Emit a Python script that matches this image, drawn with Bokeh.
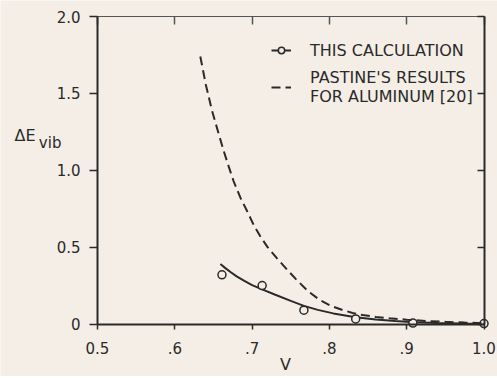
from bokeh.plotting import figure
from bokeh.models import LinearAxis, FixedTicker, Legend, LegendItem, Range1d
from bokeh.core.properties import value
from bokeh.embed import file_html
from bokeh.resources import INLINE

# ---- data ----
calc_v = [0.661, 0.713, 0.767, 0.834, 0.908, 1.000]
calc_e = [0.32, 0.25, 0.09, 0.033, 0.006, 0.003]

fit_v = [0.659, 0.665, 0.672, 0.680, 0.690, 0.700, 0.713, 0.730, 0.750, 0.767,
         0.785, 0.805, 0.834, 0.860, 0.885, 0.910, 0.940, 0.970, 1.000]
fit_e = [0.39, 0.365, 0.338, 0.31, 0.28, 0.253, 0.225, 0.19, 0.15, 0.118,
         0.092, 0.069, 0.044, 0.029, 0.019, 0.011, 0.006, 0.003, 0.001]

pastine_v = [0.633, 0.640, 0.648, 0.656, 0.663, 0.670, 0.676, 0.685, 0.693, 0.702,
             0.710, 0.720, 0.732, 0.745, 0.757, 0.772, 0.787, 0.802, 0.817, 0.830,
             0.843, 0.860, 0.878, 0.900, 0.925, 0.950, 0.975, 1.000]
pastine_e = [1.74, 1.56, 1.39, 1.25, 1.13, 1.02, 0.93, 0.82, 0.74, 0.645,
             0.575, 0.50, 0.428, 0.355, 0.29, 0.215, 0.158, 0.118, 0.091, 0.072,
             0.058, 0.046, 0.037, 0.028, 0.020, 0.014, 0.009, 0.005]

x_ticks = [0.5, 0.6, 0.7, 0.8, 0.9, 1.0]
x_tick_labels = ["0.5", ".6", ".7", ".8", ".9", "1.0"]
y_ticks = [0.0, 0.5, 1.0, 1.5, 2.0]
y_tick_labels = ["0", "0.5", "1.0", "1.5", "2.0"]

legend_labels = ["THIS CALCULATION", "PASTINE'S RESULTS\nFOR ALUMINUM [20]"]
y_title = ["ΔE", "vib"]
x_title = ["V"]

X0, X1 = 0.5, 1.0
Y0, Y1 = 0.0, 2.0

BG = "#f4eee6"
INK = "#2a2a2a"
FONT = "DejaVu Sans"

# canvas = plotting frame; the axes are pinned at the data edges
p = figure(width=497, height=376,
           x_range=Range1d(0.37451, 1.01746), y_range=Range1d(-0.34146, 2.10407),
           output_backend="svg", toolbar_location=None,
           x_axis_location=None, y_axis_location=None,
           min_border_left=0, min_border_right=0,
           min_border_top=0, min_border_bottom=0,
           background_fill_color=BG, border_fill_color=BG,
           outline_line_color=None)
p.grid.visible = False


def style_axis(ax, ticks, labels, tin, tout, show_labels, lw, color):
    ax.ticker = FixedTicker(ticks=ticks)
    ax.minor_tick_line_color = None
    ax.axis_line_color = color
    ax.axis_line_width = lw
    ax.major_tick_line_color = color
    ax.major_tick_line_width = 1.5
    ax.major_tick_in = tin
    ax.major_tick_out = tout
    if show_labels:
        ax.major_label_overrides = {t: l for t, l in zip(ticks, labels)}
        ax.major_label_text_font = FONT
        ax.major_label_text_font_size = "15px"
        ax.major_label_text_color = INK
    else:
        ax.major_label_overrides = {t: " " for t in ticks}
        ax.major_label_text_font_size = "1px"
        ax.major_label_text_alpha = 0
        ax.major_label_standoff = 0


left = LinearAxis(fixed_location=X0, bounds=(Y0, Y1))
style_axis(left, y_ticks, y_tick_labels, 0, 8, True, 2, INK)
left.major_label_standoff = 9
p.add_layout(left, "left")

bottom = LinearAxis(fixed_location=Y0, bounds=(X0, X1))
style_axis(bottom, x_ticks, x_tick_labels, 0, 5, True, 2, INK)
bottom.major_label_standoff = 13
p.add_layout(bottom, "below")

right = LinearAxis(fixed_location=X1, bounds=(Y0, Y1))
style_axis(right, y_ticks, y_tick_labels, 7, 0, False, 2, INK)
p.add_layout(right, "right")

top = LinearAxis(fixed_location=Y1, bounds=(X0, X1))
style_axis(top, x_ticks, x_tick_labels, 8, 0, False, 1.2, "#555555")
p.add_layout(top, "above")

r_fit = p.line(fit_v, fit_e, line_color=INK, line_width=2)
r_pts = p.scatter(calc_v, calc_e, marker="circle", size=8,
                  line_color=INK, line_width=1.5, fill_color=BG)
r_dash = p.line(pastine_v, pastine_e, line_color=INK, line_width=2,
                line_dash="9 5")

legend = Legend(items=[LegendItem(label=legend_labels[0], renderers=[r_fit, r_pts]),
                       LegendItem(label=legend_labels[1], renderers=[r_dash])],
                location=(271, 270), padding=0, margin=0, spacing=8,
                glyph_width=20, glyph_height=16, label_height=20,
                label_standoff=19,
                label_text_font=FONT, label_text_font_size="16px",
                label_text_color=INK,
                background_fill_alpha=0, border_line_alpha=0)
p.add_layout(legend)

# axis titles: ΔE with subscript "vib", and V below the axis
p.text(x=[0.3926], y=[1.228], text=[y_title[0]], text_font=value(FONT),
       text_font_size="16px", text_color=INK, text_baseline="alphabetic")
p.text(x=[0.4241], y=[1.18], text=[y_title[1]], text_font=value(FONT),
       text_font_size="15px", text_color=INK, text_baseline="alphabetic")
p.text(x=[0.7432], y=[-0.2634], text=x_title, text_font=value(FONT),
       text_font_size="16px", text_color=INK, text_align="center",
       text_baseline="middle")

open("out.html", "w").write(file_html(p, INLINE))
